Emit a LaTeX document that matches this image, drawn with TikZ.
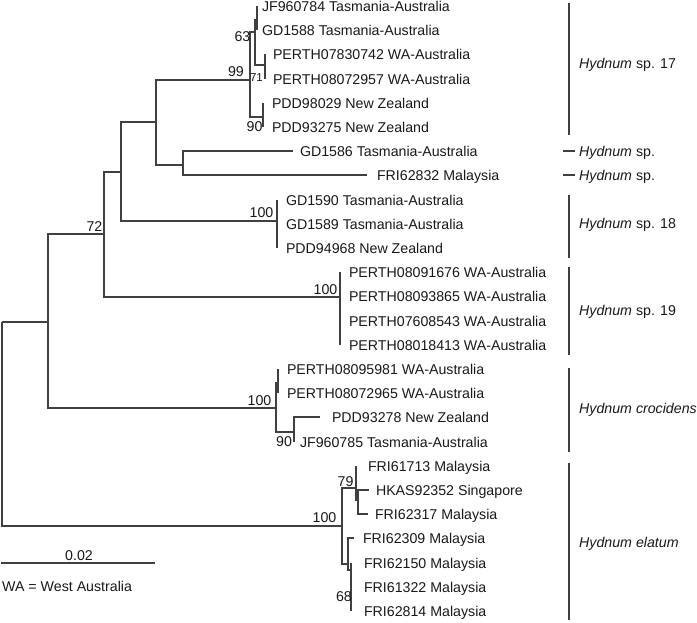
\documentclass[tikz,border=0pt]{standalone}
\usepackage{fontspec}
\setmainfont{Liberation Sans}
\usetikzlibrary{positioning,calc}

\begin{document}
\begin{tikzpicture}[x=1pt,y=-1pt]
  \tikzstyle{br}=[line width=1.5pt,draw=black!75]
  \tikzstyle{leaf}=[anchor=west,inner sep=0pt,outer xsep=7pt,text height=10.2pt,text depth=0pt,font=\fontsize{14.2}{17}\selectfont,text=black!90]
  \tikzstyle{boot}=[inner sep=0pt,font=\fontsize{14.2}{17}\selectfont,text=black!90]
  \tikzstyle{clade}=[anchor=west,inner sep=0pt,text height=10.2pt,text depth=0pt,font=\fontsize{14.2}{17}\selectfont,text=black!90]
  \useasboundingbox (0,0) rectangle (697,622);

  \coordinate (root) at (2,322);
  \coordinate (nA) at (48,322);
  \coordinate (nB) at (104,234);
  \coordinate (nC) at (121,172);
  \coordinate (nD) at (156,122);
  \coordinate (nE) at (183,165);
  \coordinate (n17) at (250,80);
  \coordinate (n63) at (255,32);
  \coordinate (nJG) at (257,20);
  \coordinate (n71) at (265,65);
  \coordinate (n90a) at (263,117);
  \coordinate (n18) at (277,221);
  \coordinate (n19) at (340,297);
  \coordinate (nCro) at (276,408);
  \coordinate (nPP) at (278,383);
  \coordinate (n90b) at (294,432);
  \coordinate (nEl) at (342,526);
  \coordinate (n79) at (356,488);
  \coordinate (nHF) at (358,500);
  \coordinate (nP) at (348,564);
  \coordinate (n68) at (351,570);

  \node[leaf,outer xsep=5pt] (jf784) at (257,6) {JF960784 Tasmania-Australia};
  \node[leaf,outer xsep=5pt] (gd1588) at (257,30) {GD1588 Tasmania-Australia};
  \node[leaf,outer xsep=8pt] (p0742) at (265,54) {PERTH07830742 WA-Australia};
  \node[leaf,outer xsep=8pt] (p2957) at (265,79) {PERTH08072957 WA-Australia};
  \node[leaf,outer xsep=9pt] (pdd029) at (263,103) {PDD98029 New Zealand};
  \node[leaf,outer xsep=9pt] (pdd275) at (263,127) {PDD93275 New Zealand};
  \node[leaf] (gd1586) at (293,151) {GD1586 Tasmania-Australia};
  \node[leaf,outer xsep=10pt] (fri832) at (367,175) {FRI62832 Malaysia};
  \node[leaf,outer xsep=9pt] (gd1590) at (277,200) {GD1590 Tasmania-Australia};
  \node[leaf,outer xsep=9pt] (gd1589) at (277,224) {GD1589 Tasmania-Australia};
  \node[leaf,outer xsep=9pt] (pdd968) at (277,248) {PDD94968 New Zealand};
  \node[leaf,outer xsep=9pt] (p1676) at (340,272) {PERTH08091676 WA-Australia};
  \node[leaf,outer xsep=9pt] (p3865) at (340,296) {PERTH08093865 WA-Australia};
  \node[leaf,outer xsep=9pt] (p8543) at (340,321) {PERTH07608543 WA-Australia};
  \node[leaf,outer xsep=9pt] (p8413) at (340,345) {PERTH08018413 WA-Australia};
  \node[leaf,outer xsep=9pt] (p5981) at (278,369) {PERTH08095981 WA-Australia};
  \node[leaf,outer xsep=9pt] (p2965) at (278,393) {PERTH08072965 WA-Australia};
  \node[leaf,outer xsep=12pt] (pdd278) at (320,417) {PDD93278 New Zealand};
  \node[leaf,outer xsep=6pt] (jf785) at (294,442) {JF960785 Tasmania-Australia};
  \node[leaf,outer xsep=12pt] (fri713) at (356,466) {FRI61713 Malaysia};
  \node[leaf] (hkas) at (369,490) {HKAS92352 Singapore};
  \node[leaf] (fri317) at (368,514) {FRI62317 Malaysia};
  \node[leaf,outer xsep=9pt] (fri309) at (354,538) {FRI62309 Malaysia};
  \node[leaf,outer xsep=13pt] (fri150) at (351,563) {FRI62150 Malaysia};
  \node[leaf,outer xsep=13pt] (fri322) at (351,587) {FRI61322 Malaysia};
  \node[leaf,outer xsep=13pt] (fri814) at (351,611) {FRI62814 Malaysia};

  \draw[br] (root) |- (nA);
  \draw[br] (root) |- (nEl);
  \draw[br] (nA) |- (nB);
  \draw[br] (nA) |- (nCro);
  \draw[br] (nB) |- (nC);
  \draw[br] (nB) |- (n19);
  \draw[br] (nC) |- (nD);
  \draw[br] (nC) |- (n18);
  \draw[br] (nD) |- (n17);
  \draw[br] (nD) |- (nE);
  \draw[br] (nE) |- (gd1586);
  \draw[br] (nE) |- (fri832);
  \draw[br] (n17) |- (n63);
  \draw[br] (n17) |- (n90a);
  \draw[br] (n63) |- (nJG);
  \draw[br] (n63) |- (n71);
  \draw[br] (nJG) |- (jf784);
  \draw[br] (nJG) |- (gd1588);
  \draw[br] (n71) |- (p0742);
  \draw[br] (n71) |- (p2957);
  \draw[br] (n90a) |- (pdd029);
  \draw[br] (n90a) |- (pdd275);
  \draw[br] (n18) |- (gd1590);
  \draw[br] (n18) |- (gd1589);
  \draw[br] (n18) |- (pdd968);
  \draw[br] (n19) |- (p1676);
  \draw[br] (n19) |- (p3865);
  \draw[br] (n19) |- (p8543);
  \draw[br] (n19) |- (p8413);
  \draw[br] (nCro) |- (nPP);
  \draw[br] (nCro) |- (n90b);
  \draw[br] (nPP) |- (p5981);
  \draw[br] (nPP) |- (p2965);
  \draw[br] (n90b) |- (pdd278);
  \draw[br] (n90b) |- (jf785);
  \draw[br] (nEl) |- (n79);
  \draw[br] (nEl) |- (nP);
  \draw[br] (n79) |- (fri713);
  \draw[br] (n79) |- (nHF);
  \draw[br] (nHF) |- (hkas);
  \draw[br] (nHF) |- (fri317);
  \draw[br] (nP) |- (fri309);
  \draw[br] (nP) |- (n68);
  \draw[br] (n68) |- (fri150);
  \draw[br] (n68) |- (fri322);
  \draw[br] (n68) |- (fri814);

  \node[boot] (b63) at (242.5,37) {63};
  \node[boot] (b99) at (236,72) {99};
  \node[boot,font=\fontsize{11.5}{14}\selectfont] (b71) at (256.5,77.5) {71};
  \node[boot] (b90a) at (254.5,127) {90};
  \node[boot] (b72) at (94.5,227) {72};
  \node[boot] (b18) at (261.5,213) {100};
  \node[boot] (b19) at (325.5,289.5) {100};
  \node[boot] (bCro) at (259.5,401) {100};
  \node[boot] (b90b) at (284,442) {90};
  \node[boot] (bEl) at (324.5,517.5) {100};
  \node[boot] (b79) at (345.5,482) {79};
  \node[boot] (b68) at (344,597) {68};

  \draw[br] (569,3) -- (569,135);
  \node[clade] (c17) at (579,63) {\textit{Hydnum} sp. 17};
  \draw[br] (563,151) -- (575,151);
  \node[clade] (cA) at (579,151) {\textit{Hydnum} sp.};
  \draw[br] (563,175) -- (575,175);
  \node[clade] (cB) at (579,175) {\textit{Hydnum} sp.};
  \draw[br] (569,195) -- (569,258);
  \node[clade] (c18) at (579,223) {\textit{Hydnum} sp. 18};
  \draw[br] (569,267) -- (569,355);
  \node[clade] (c19) at (579,310) {\textit{Hydnum} sp. 19};
  \draw[br] (569,368) -- (569,452);
  \node[clade] (cCro) at (579,408) {\textit{Hydnum crocidens}};
  \draw[br] (569,463) -- (569,620);
  \node[clade] (cEl) at (579,542) {\textit{Hydnum elatum}};

  \coordinate (sbL) at (1,563);
  \coordinate (sbR) at (155,563);
  \draw[br] (sbL) -- (sbR);
  \node[boot] (sbT) at (79,555.5) {0.02};
  \node[clade] (wa) at (2,586.5) {WA = West Australia};
\end{tikzpicture}
\end{document}
